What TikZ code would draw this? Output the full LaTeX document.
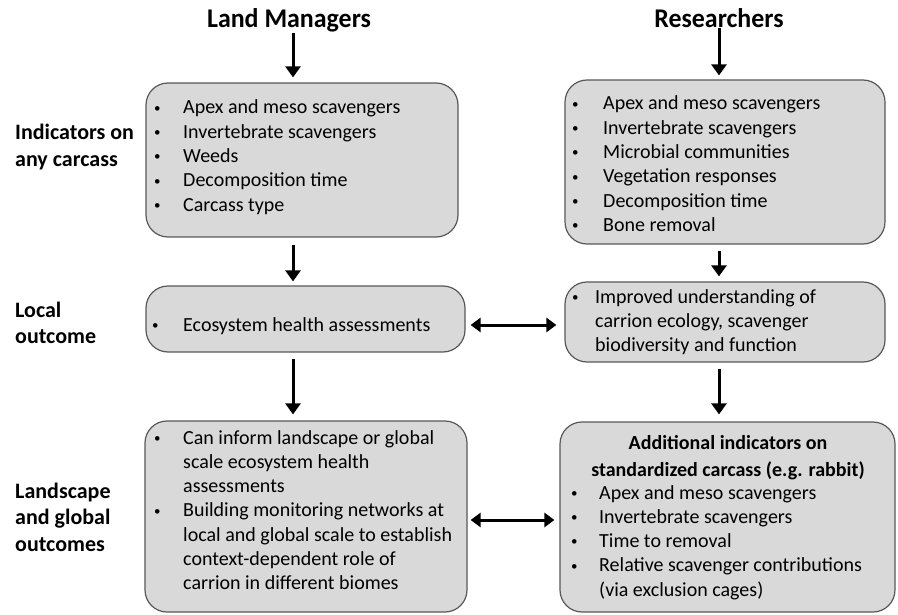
\documentclass[tikz,border=0pt]{standalone}
\usepackage{fontspec}
\setmainfont{Carlito}
\usetikzlibrary{arrows.meta}
\definecolor{boxfill}{HTML}{D9D9D9}
\definecolor{boxline}{HTML}{585858}
\newcommand\blist[2]{\begin{tabular}[t]{@{}p{#1}@{}l@{}}#2\end{tabular}}
\newcommand\llist[1]{\begin{tabular}[t]{@{}l@{}}#1\end{tabular}}
\newcommand\clist[1]{\begin{tabular}[t]{@{}c@{}}#1\end{tabular}}
\newcommand\bul{\hspace*{2pt}\raisebox{1.8pt}{\fontsize{13}{13}\selectfont\textbullet}}
\begin{document}
\begin{tikzpicture}[x=1pt,y=-1pt,
 box/.style={draw=boxline, fill=boxfill, line width=1.2pt, rounded corners=22pt, inner sep=0pt},
 body/.style={font=\fontsize{20}{24.3}\selectfont, inner sep=0pt, anchor=base west},
 lab/.style={font=\bfseries\fontsize{22}{26.5}\selectfont, inner sep=0pt, anchor=base west},
 head/.style={font=\bfseries\fontsize{27}{30}\selectfont, inner sep=0pt, anchor=base},
 arr/.style={line width=3pt, -{Triangle[width=15pt,length=11pt]}},
 darr/.style={line width=3pt, {Triangle[width=14pt,length=10pt]}-{Triangle[width=14pt,length=10pt]}},
]
\useasboundingbox (0,0) rectangle (898,615);

% headers
\node[head] (lm) at (289,28) {\scalebox{0.96}[1]{Land Managers}};
\node[head] (rs) at (719,28) {\scalebox{0.96}[1]{Researchers}};

% row labels
\node[lab] (l1) at (15,140) {\llist{Indicators on\\any carcass}};
\node[lab] (l2) at (15,317) {\llist{Local\\outcome}};
\node[lab] (l3) at (15,498) {\llist{Landscape\\and global\\outcomes}};

% boxes
\node[box, minimum width=312pt, minimum height=154pt] (b1) at (302,160) {};
\node[box, minimum width=320pt, minimum height=164pt] (b2) at (725,162) {};
\node[box, minimum width=319pt, minimum height=66pt] (b3) at (305.5,319) {};
\node[box, minimum width=320pt, minimum height=80pt] (b4) at (725,322) {};
\node[box, minimum width=322pt, minimum height=191pt] (b5) at (306,516.5) {};
\node[box, minimum width=335pt, minimum height=190pt] (b6) at (727.5,517) {};

% box texts
\node[body] (t1) at (152,114) {\blist{31pt}{%
\bul & Apex and meso scavengers\\
\bul & Invertebrate scavengers\\
\bul & Weeds\\
\bul & Decomposition time\\
\bul & Carcass type}};
\node[body] (t2) at (570,110) {\blist{33pt}{%
\bul & Apex and meso scavengers\\
\bul & Invertebrate scavengers\\
\bul & Microbial communities\\
\bul & Vegetation responses\\
\bul & Decomposition time\\
\bul & Bone removal}};
\node[body] (t3) at (150,331) {\blist{33pt}{%
\bul & Ecosystem health assessments}};
\node[body] (t4) at (570,303) {\blist{25pt}{%
\bul & Improved understanding of\\
 & carrion ecology, scavenger\\
 & biodiversity and function}};
\node[body] (t5) at (152,444) {\blist{31pt}{%
\bul & Can inform landscape or global\\
 & scale ecosystem health\\
 & assessments\\
\bul & Building monitoring networks at\\
 & local and global scale to establish\\
 & context-dependent role of\\
 & carrion in different biomes}};
\node[font=\bfseries\fontsize{20}{27.5}\selectfont, inner sep=0pt, anchor=base] (t6h) at (728,449)
 {\clist{Additional indicators on\\standardized carcass (e.g. rabbit)}};
\node[body] (t6) at (569,499) {\blist{30pt}{%
\bul & Apex and meso scavengers\\
\bul & Invertebrate scavengers\\
\bul & Time to removal\\
\bul & Relative scavenger contributions\\
 & (via exclusion cages)}};

% arrows
\coordinate (cL) at (293,0);
\coordinate (cR) at (719,0);
\draw[arr, shorten >=5pt] (lm.south -| cL) -- (b1.north -| cL);
\draw[arr, shorten >=4pt] (rs.south -| cR) -- (b2.north -| cR);
\draw[arr, shorten <=7pt, shorten >=4pt] (b1.south -| cL) -- (b3.north -| cL);
\draw[arr, shorten <=6pt, shorten >=5pt] (b2.south -| cR) -- (b4.north -| cR);
\draw[arr, shorten <=6pt, shorten >=6pt] (b3.south -| cL) -- (b5.north -| cL);
\draw[arr, shorten <=6pt, shorten >=7pt] (b4.south -| cR) -- (b6.north -| cR);

\coordinate (m1) at (0,325);
\coordinate (m2) at (0,520);
\draw[darr, shorten <=5pt, shorten >=8pt] (b3.east |- m1) -- (b4.west |- m1);
\draw[darr, shorten <=3pt, shorten >=5pt] (b5.east |- m2) -- (b6.west |- m2);
\end{tikzpicture}
\end{document}
